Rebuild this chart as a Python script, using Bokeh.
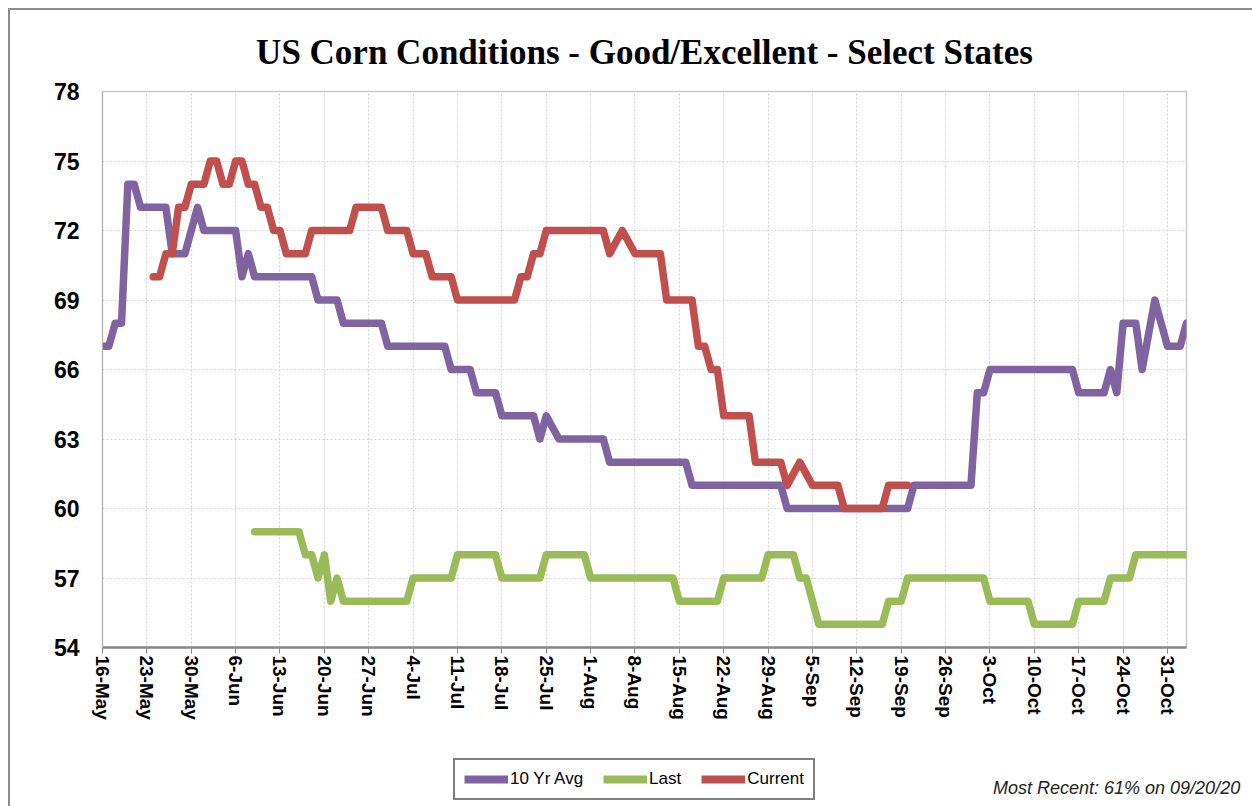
import pandas as pd
from bokeh.plotting import figure
from bokeh.layouts import column, row
from bokeh.models import Range1d, FixedTicker, Legend, LegendItem, Title, Div
from bokeh.embed import file_html
from bokeh.resources import INLINE

title_text = "US Corn Conditions - Good/Excellent - Select States"
note_text = "Most Recent: 61% on 09/20/20"
series_names = ["10 Yr Avg", "Last", "Current"]
series_colors = ["#8064A2", "#9BBB59", "#C0504D"]

x_start = "2020-05-16"
x_end = "2020-11-03"
y_ticks = [54, 57, 60, 63, 66, 69, 72, 75, 78]

tick_dates = ["2020-05-16", "2020-05-23", "2020-05-30", "2020-06-06", "2020-06-13",
              "2020-06-20", "2020-06-27", "2020-07-04", "2020-07-11", "2020-07-18",
              "2020-07-25", "2020-08-01", "2020-08-08", "2020-08-15", "2020-08-22",
              "2020-08-29", "2020-09-05", "2020-09-12", "2020-09-19", "2020-09-26",
              "2020-10-03", "2020-10-10", "2020-10-17", "2020-10-24", "2020-10-31"]
tick_labels = ["16-May", "23-May", "30-May", "6-Jun", "13-Jun", "20-Jun", "27-Jun",
               "4-Jul", "11-Jul", "18-Jul", "25-Jul", "1-Aug", "8-Aug", "15-Aug",
               "22-Aug", "29-Aug", "5-Sep", "12-Sep", "19-Sep", "26-Sep", "3-Oct",
               "10-Oct", "17-Oct", "24-Oct", "31-Oct"]

avg_dates = ["2020-05-16", "2020-05-17", "2020-05-18", "2020-05-19", "2020-05-20", "2020-05-21",
             "2020-05-22", "2020-05-26", "2020-05-27", "2020-05-29", "2020-05-31", "2020-06-01",
             "2020-06-06", "2020-06-07", "2020-06-08", "2020-06-09", "2020-06-18", "2020-06-19",
             "2020-06-22", "2020-06-23", "2020-06-29", "2020-06-30", "2020-07-09", "2020-07-10",
             "2020-07-13", "2020-07-14", "2020-07-17", "2020-07-18", "2020-07-23", "2020-07-24",
             "2020-07-25", "2020-07-27", "2020-08-03", "2020-08-04", "2020-08-16", "2020-08-17",
             "2020-08-31", "2020-09-01", "2020-09-20", "2020-09-21", "2020-09-30", "2020-10-01",
             "2020-10-02", "2020-10-03", "2020-10-16", "2020-10-17", "2020-10-21", "2020-10-22",
             "2020-10-23", "2020-10-24", "2020-10-26", "2020-10-27", "2020-10-29", "2020-10-31",
             "2020-11-02", "2020-11-03"]
avg_vals = [67, 67, 68, 68, 74, 74, 73, 73, 71, 71,
            73, 72, 72, 70, 71, 70, 70, 69, 69, 68,
            68, 67, 67, 66, 66, 65, 65, 64, 64, 63,
            64, 63, 63, 62, 62, 61, 61, 60, 60, 61,
            61, 65, 65, 66, 66, 65, 65, 66, 65, 68,
            68, 66, 69, 67, 67, 68]

last_dates = ["2020-06-09", "2020-06-16", "2020-06-17", "2020-06-18", "2020-06-19", "2020-06-20",
              "2020-06-21", "2020-06-22", "2020-06-23", "2020-07-03", "2020-07-04", "2020-07-10",
              "2020-07-11", "2020-07-17", "2020-07-18", "2020-07-24", "2020-07-25", "2020-07-31",
              "2020-08-01", "2020-08-14", "2020-08-15", "2020-08-21", "2020-08-22", "2020-08-28",
              "2020-08-29", "2020-09-02", "2020-09-03", "2020-09-04", "2020-09-06", "2020-09-16",
              "2020-09-17", "2020-09-19", "2020-09-20", "2020-10-02", "2020-10-03", "2020-10-09",
              "2020-10-10", "2020-10-16", "2020-10-17", "2020-10-21", "2020-10-22", "2020-10-25",
              "2020-10-26", "2020-11-03"]
last_vals = [59, 59, 58, 58, 57, 58, 56, 57, 56, 56,
             57, 57, 58, 58, 57, 57, 58, 58, 57, 57,
             56, 56, 57, 57, 58, 58, 57, 57, 55, 55,
             56, 56, 57, 57, 56, 56, 55, 55, 56, 56,
             57, 57, 58, 58]

cur_dates = ["2020-05-24", "2020-05-25", "2020-05-26", "2020-05-27", "2020-05-28", "2020-05-29",
             "2020-05-30", "2020-06-01", "2020-06-02", "2020-06-03", "2020-06-04", "2020-06-05",
             "2020-06-06", "2020-06-07", "2020-06-08", "2020-06-09", "2020-06-10", "2020-06-11",
             "2020-06-12", "2020-06-13", "2020-06-14", "2020-06-17", "2020-06-18", "2020-06-24",
             "2020-06-25", "2020-06-29", "2020-06-30", "2020-07-03", "2020-07-04", "2020-07-06",
             "2020-07-07", "2020-07-10", "2020-07-11", "2020-07-20", "2020-07-21", "2020-07-22",
             "2020-07-23", "2020-07-24", "2020-07-25", "2020-08-03", "2020-08-04", "2020-08-06",
             "2020-08-08", "2020-08-12", "2020-08-13", "2020-08-17", "2020-08-18", "2020-08-19",
             "2020-08-20", "2020-08-21", "2020-08-22", "2020-08-26", "2020-08-27", "2020-08-31",
             "2020-09-01", "2020-09-03", "2020-09-05", "2020-09-09", "2020-09-10", "2020-09-16",
             "2020-09-17", "2020-09-20"]
cur_vals = [70, 70, 71, 71, 73, 73, 74, 74, 75, 75,
            74, 74, 75, 75, 74, 74, 73, 73, 72, 72,
            71, 71, 72, 72, 73, 73, 72, 72, 71, 71,
            70, 70, 69, 69, 70, 70, 71, 71, 72, 72,
            71, 72, 71, 71, 69, 69, 67, 67, 66, 66,
            64, 64, 62, 62, 61, 62, 61, 61, 60, 60,
            61, 61]


def ms(d):
    return int(pd.Timestamp(d).value // 10**6)


x0, x1 = ms(x_start), ms(x_end)

p = figure(width=1236, height=730, x_axis_type="datetime",
           x_range=Range1d(x0, x1), y_range=Range1d(y_ticks[0], y_ticks[-1]),
           output_backend="svg", toolbar_location=None,
           min_border_left=92, min_border_right=60, min_border_top=81, min_border_bottom=93)
p.background_fill_color = "white"
p.border_fill_color = "white"
p.outline_line_color = "#c9c9c9"
p.outline_line_width = 1.5

p.add_layout(Title(text=title_text, align="center", offset=-11, standoff=39,
                   text_font="Liberation Serif", text_font_style="bold",
                   text_font_size="35px", text_color="black"), "above")

tick_ms = [ms(d) for d in tick_dates]
p.xaxis.ticker = FixedTicker(ticks=tick_ms)
p.xaxis.major_label_overrides = {t: lab for t, lab in zip(tick_ms, tick_labels)}
p.xaxis.major_label_orientation = "vertical"
p.xaxis.major_label_text_font = "Liberation Sans"
p.xaxis.major_label_text_font_style = "bold"
p.xaxis.major_label_text_font_size = "19px"
p.xaxis.major_label_text_color = "black"
p.xaxis.major_label_standoff = 2
p.xaxis.major_tick_in = 0
p.xaxis.major_tick_out = 6
p.xaxis.major_tick_line_color = "#888888"
p.xaxis.minor_tick_line_color = None
p.xaxis.axis_line_color = "#888888"
p.xaxis.axis_line_width = 2.5

p.yaxis.ticker = FixedTicker(ticks=y_ticks)
p.yaxis.major_label_text_font = "Liberation Sans"
p.yaxis.major_label_text_font_style = "bold"
p.yaxis.major_label_text_font_size = "23px"
p.yaxis.major_label_text_color = "black"
p.yaxis.major_label_standoff = 23
p.yaxis.major_tick_in = 0
p.yaxis.major_tick_out = 0
p.yaxis.minor_tick_line_color = None
p.yaxis.axis_line_color = "#b0b0b0"

p.xgrid.ticker = FixedTicker(ticks=tick_ms)
p.ygrid.ticker = FixedTicker(ticks=y_ticks)
for g in (p.xgrid, p.ygrid):
    g.grid_line_color = "#d4d4d4"
    g.grid_line_dash = "2 2"
    g.grid_line_width = 1.2

series = [(avg_dates, avg_vals), (last_dates, last_vals), (cur_dates, cur_vals)]
for (dates, vals), color in zip(series, series_colors):
    p.line(pd.to_datetime(dates), vals, line_color=color, line_width=7.5,
           line_join="round", line_cap="round")

# bottom strip: legend (plot) and note (html text)
p2 = figure(width=960, height=62, x_range=Range1d(0, 1), y_range=Range1d(0, 1),
            output_backend="svg", toolbar_location=None,
            x_axis_location=None, y_axis_location=None,
            min_border_left=92, min_border_right=0, min_border_top=0, min_border_bottom=0)
p2.outline_line_color = None
p2.xgrid.visible = False
p2.ygrid.visible = False
p2.border_fill_color = "white"
swatches = [p2.line([2, 3], [2, 2], line_color=c, line_width=8, line_cap="butt")
            for c in series_colors]

legend = Legend(items=[LegendItem(label=n, renderers=[r]) for n, r in zip(series_names, swatches)],
                orientation="horizontal", location=(351, 2))
legend.label_text_font = "Liberation Sans"
legend.label_text_font_size = "17px"
legend.label_text_color = "black"
legend.glyph_width = 44
legend.glyph_height = 16
legend.label_standoff = 2
legend.spacing = 20
legend.padding = 9
legend.margin = 0
legend.border_line_color = "black"
legend.border_line_width = 2.5
legend.background_fill_color = "white"
legend.background_fill_alpha = 1
p2.add_layout(legend, "center")

note = Div(text=('<div style="text-align:right; margin-top:33px; position:relative; left:18px; '
                 'font-family:\'Liberation Sans\'; font-style:italic; font-size:18px; '
                 'line-height:21px; color:#222222; white-space:nowrap;">'
                 + note_text + '</div>'),
           width=276, height=62)

layout = column(p, row(p2, note, spacing=0), spacing=0)
layout.styles = {"border-left": "2px solid #8c8c8c", "border-top": "2px solid #8c8c8c",
                 "margin-left": "8px", "margin-top": "8px"}

open("out.html", "w").write(file_html(layout, INLINE))
